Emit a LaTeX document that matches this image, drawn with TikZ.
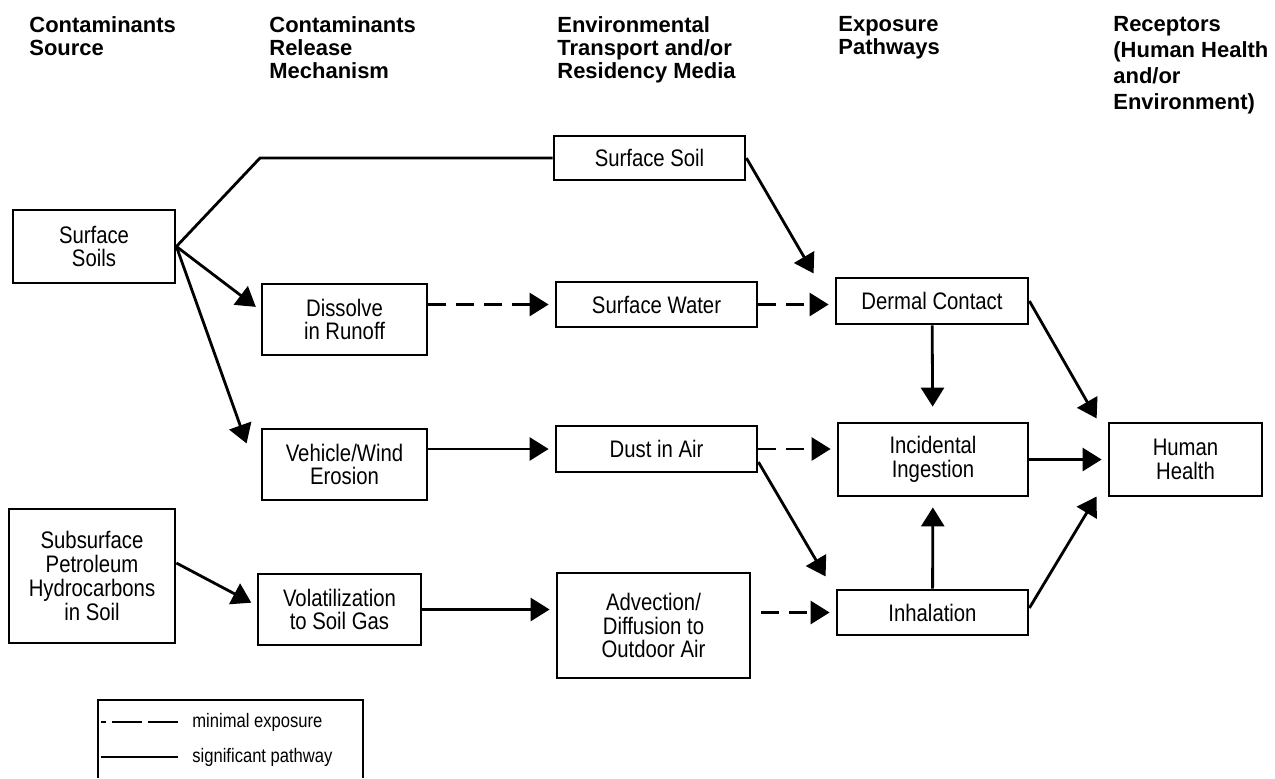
\documentclass[tikz,border=0pt]{standalone}
\usepackage{fontspec}
\setmainfont{Liberation Sans}
\newfontfamily\narrowfont[FakeStretch=0.85]{Liberation Sans}
\usetikzlibrary{arrows.meta}

\begin{document}
\begin{tikzpicture}[x=0.02cm, y=-0.02cm, ->, >={Triangle[length=0.38cm,width=0.46cm]}, line width=1.6pt, shorten >=0.12cm,
  main node/.style={draw, rectangle, inner sep=0pt, align=center, font=\narrowfont\fontsize{13.6}{13.6}\selectfont},
  head node/.style={anchor=north west, inner sep=0pt, align=left, font=\bfseries\fontsize{12.5}{13.1}\selectfont},
  minimal/.style={dash pattern=on 0.36cm off 0.2cm}]
            \useasboundingbox (0,0) rectangle (1275,778);

              \node[head node] (h1) at (28,15) {Contaminants\\Source};
              \node[head node] (h2) at (268,15) {Contaminants\\Release\\Mechanism};
              \node[head node] (h3) at (556,15) {Environmental\\Transport and/or\\Residency Media};
              \node[head node] (h4) at (837,15) {Exposure\\Pathways};
              \node[head node, font=\bfseries\fontsize{12.5}{14.8}\selectfont] (h5) at (1112,15) {Receptors\\(Human Health\\and/or\\Environment)};

              \node[main node, minimum width=3.24cm, minimum height=1.46cm] (1) at (94,246.5) {Surface\\Soils};
              \node[main node, minimum width=3.32cm, minimum height=2.68cm] (2) at (92,576) {Subsurface\\Petroleum\\Hydrocarbons\\in Soil};
              \node[main node, minimum width=3.30cm, minimum height=1.42cm] (3) at (344.5,319.5) {Dissolve\\in Runoff};
              \node[main node, minimum width=3.30cm, minimum height=1.42cm] (4) at (344.5,464.5) {Vehicle/Wind\\Erosion};
              \node[main node, minimum width=3.26cm, minimum height=1.42cm] (5) at (339.5,609.5) {Volatilization\\to Soil Gas};
              \node[main node, minimum width=3.82cm, minimum height=0.88cm] (6) at (649.5,158) {Surface Soil};
              \node[main node, minimum width=4.02cm, minimum height=0.90cm] (7) at (656.5,304.5) {Surface Water};
              \node[main node, minimum width=4.02cm, minimum height=0.92cm] (8) at (656.5,449) {Dust in Air};
              \node[main node, minimum width=3.86cm, minimum height=2.10cm] (9) at (653.5,625.5) {Advection/\\Diffusion to\\Outdoor Air};
              \node[main node, minimum width=3.84cm, minimum height=0.92cm] (10) at (932,301) {Dermal Contact};
              \node[main node, minimum width=3.80cm, minimum height=1.46cm] (11) at (933,459.5) {Incidental\\Ingestion};
              \node[main node, minimum width=3.82cm, minimum height=0.90cm] (12) at (932.5,612.5) {Inhalation};
              \node[main node, minimum width=3.06cm, minimum height=1.46cm] (13) at (1185.5,459.5) {Human\\Health};

              \coordinate (k) at (260,158);
              \draw[-, shorten >=0pt] (1.east) -- (k) -- (6);

              \path (1.east) edge ([yshift=0.18cm]3.west)
                    edge ([xshift=-0.24cm,yshift=-0.43cm]4.north west)
                ([yshift=0.26cm]2.east) edge ([yshift=0.08cm]5.west)
                (3.east |- 7) edge[minimal] (7)
                (4.east |- 8) edge (8)
                (5) edge (5 -| 9.west)
                (7) edge[minimal] (7 -| 10.west)
                (8) edge[minimal] (8 -| 11.west)
                (9.east |- 12) edge[minimal, shorten <=0.2cm] (12)
                (6.east) edge ([xshift=-0.36cm,yshift=-0.04cm]10.north west)
                ([yshift=-0.26cm]8.east) edge ([xshift=-0.14cm,yshift=0.14cm]12.north west)
                (10) edge[shorten >=0.3cm] (11)
                (12) edge[shorten >=0.2cm] (11)
                (11) edge (13)
                (10.east) edge ([xshift=-0.16cm,yshift=-0.04cm]13.north west)
                ([yshift=0.09cm]12.east) edge ([xshift=-0.16cm,yshift=0.12cm]13.south west);

              \draw[-, shorten >=0pt, line width=0.8pt] (98,778) -- (98,700) -- (363,700) -- (363,778);
              \node[anchor=west, inner sep=0pt, font=\narrowfont\fontsize{11.1}{11.1}\selectfont] (14) at (191,722) {minimal exposure};
              \node[anchor=west, inner sep=0pt, font=\narrowfont\fontsize{11.1}{11.1}\selectfont] (15) at (191,757) {significant pathway};
              \coordinate (d1) at (178,722);
              \coordinate (d2) at (101,722);
              \coordinate (s1) at (178,757);
              \coordinate (s2) at (101,757);
              \draw[-, shorten >=0pt, line width=1.3pt, dash pattern=on 0.6cm off 0.12cm] (d1) -- (d2);
              \draw[-, shorten >=0pt, line width=1.3pt] (s1) -- (s2);

            \end{tikzpicture}
\end{document}
